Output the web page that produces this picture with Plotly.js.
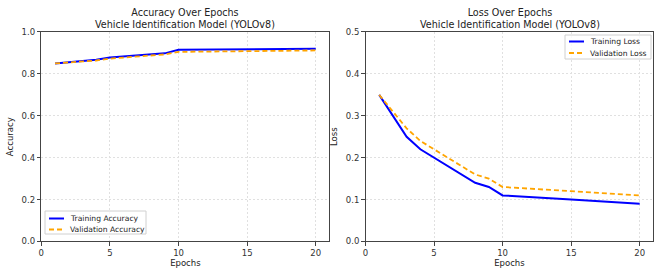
<!DOCTYPE html>
<html><head><meta charset="utf-8">
<script src="https://cdn.plot.ly/plotly-3.0.1.min.js"></script>
<style>html,body{margin:0;padding:0;background:#fff}#c{width:660px;height:270px}</style>
</head><body><div id="c"></div>
<script>
const epochs = [1, 3, 4, 5, 8, 9, 10, 15, 20];
const trainAcc = [0.85, 0.86, 0.868, 0.878, 0.893, 0.898, 0.915, 0.918, 0.92];
const valAcc = [0.85, 0.858, 0.864, 0.873, 0.888, 0.893, 0.905, 0.908, 0.912];
const trainLoss = [0.35, 0.25, 0.22, 0.20, 0.14, 0.13, 0.11, 0.10, 0.09];
const valLoss = [0.35, 0.27, 0.24, 0.22, 0.16, 0.15, 0.13, 0.12, 0.11];
const xTicks = [0, 5, 10, 15, 20];
const accNames = ['Training Accuracy', 'Validation Accuracy'];
const lossNames = ['Training Loss', 'Validation Loss'];

const W = 660, H = 270;
const px = v => v / W, py = v => 1 - v / H;
const F = 'DejaVu Sans, sans-serif';
const blue = '#0000ff', orange = '#ffa500';
const trainLine = {color: blue, width: 2};
const valLine = {color: orange, width: 1.8, dash: '5px,3px'};
const traces = [
  {x: epochs, y: trainAcc, name: accNames[0], mode: 'lines', line: trainLine, xaxis: 'x', yaxis: 'y'},
  {x: epochs, y: valAcc, name: accNames[1], mode: 'lines', line: valLine, xaxis: 'x', yaxis: 'y'},
  {x: epochs, y: trainLoss, name: lossNames[0], mode: 'lines', line: trainLine, xaxis: 'x2', yaxis: 'y2'},
  {x: epochs, y: valLoss, name: lossNames[1], mode: 'lines', line: valLine, xaxis: 'x2', yaxis: 'y2'}
];
const ax = (extra) => Object.assign({
  showline: true, mirror: true, linecolor: '#444', linewidth: 1,
  ticks: 'outside', ticklen: 3.5, tickcolor: '#444', tickwidth: 1,
  showgrid: true, gridcolor: '#e0e0e0', griddash: '2px,2px', gridwidth: 1,
  zeroline: false, tickfont: {family: F, size: 8.5, color: '#333'}
}, extra);
const tfont = {family: F, size: 8.5, color: '#222'};

function legendItems(box, lx0, lx1, ys, tx, names) {
  const shapes = [
    {type: 'rect', xref: 'paper', yref: 'paper', x0: px(box[0]), x1: px(box[1]), y0: py(box[3]), y1: py(box[2]),
     line: {color: '#d0d0d0', width: 1}, fillcolor: 'rgba(255,255,255,0.8)', layer: 'above'},
    {type: 'line', xref: 'paper', yref: 'paper', x0: px(lx0), x1: px(lx1), y0: py(ys[0]), y1: py(ys[0]), line: trainLine, layer: 'above'},
    {type: 'line', xref: 'paper', yref: 'paper', x0: px(lx0), x1: px(lx1), y0: py(ys[1]), y1: py(ys[1]), line: {color: orange, width: 1.8, dash: '5px,3px'}, layer: 'above'}
  ];
  const anns = names.map((n, i) => ({text: n, xref: 'paper', yref: 'paper', x: px(tx), y: py(ys[i]),
    xanchor: 'left', yanchor: 'middle', showarrow: false, font: {family: F, size: 7.6, color: '#222'}}));
  return {shapes, anns};
}
const L1 = legendItems([45, 146, 211, 234], 49, 64, [218.5, 229.5], 68, accNames);
const L2 = legendItems([565, 651, 35, 59], 569, 584, [41.5, 53], 588, lossNames);

const layout = {
  width: W, height: H, margin: {l: 0, r: 0, t: 0, b: 0}, showlegend: false,
  paper_bgcolor: '#fff', plot_bgcolor: '#fff',
  xaxis: ax({domain: [0.0626, 0.4992], range: [0, 21], tickvals: xTicks, anchor: 'y',
    title: {text: 'Epochs', font: tfont, standoff: 2}}),
  yaxis: ax({domain: [0.1056, 0.8815], range: [0, 1], dtick: 0.2, tickformat: '.1f', anchor: 'x',
    title: {text: 'Accuracy', font: tfont, standoff: 6}}),
  xaxis2: ax({domain: [0.5538, 0.990], range: [0, 21], tickvals: xTicks, anchor: 'y2',
    title: {text: 'Epochs', font: tfont, standoff: 2}}),
  yaxis2: ax({domain: [0.1056, 0.8815], range: [0, 0.5], dtick: 0.1, tickformat: '.1f', anchor: 'x2',
    title: {text: 'Loss', font: tfont, standoff: 6}}),
  shapes: L1.shapes.concat(L2.shapes),
  annotations: [
    {text: 'Accuracy Over Epochs<br>Vehicle Identification Model (YOLOv8)', xref: 'paper', yref: 'paper',
     x: 0.281, y: py(4.5), xanchor: 'center', yanchor: 'top', showarrow: false,
     font: {family: F, size: 9.6, color: '#222'}},
    {text: 'Loss Over Epochs<br>Vehicle Identification Model (YOLOv8)', xref: 'paper', yref: 'paper',
     x: 0.772, y: py(4.5), xanchor: 'center', yanchor: 'top', showarrow: false,
     font: {family: F, size: 9.6, color: '#222'}}
  ].concat(L1.anns, L2.anns)
};
Plotly.newPlot('c', traces, layout, {displayModeBar: false, staticPlot: true});
</script></body></html>
